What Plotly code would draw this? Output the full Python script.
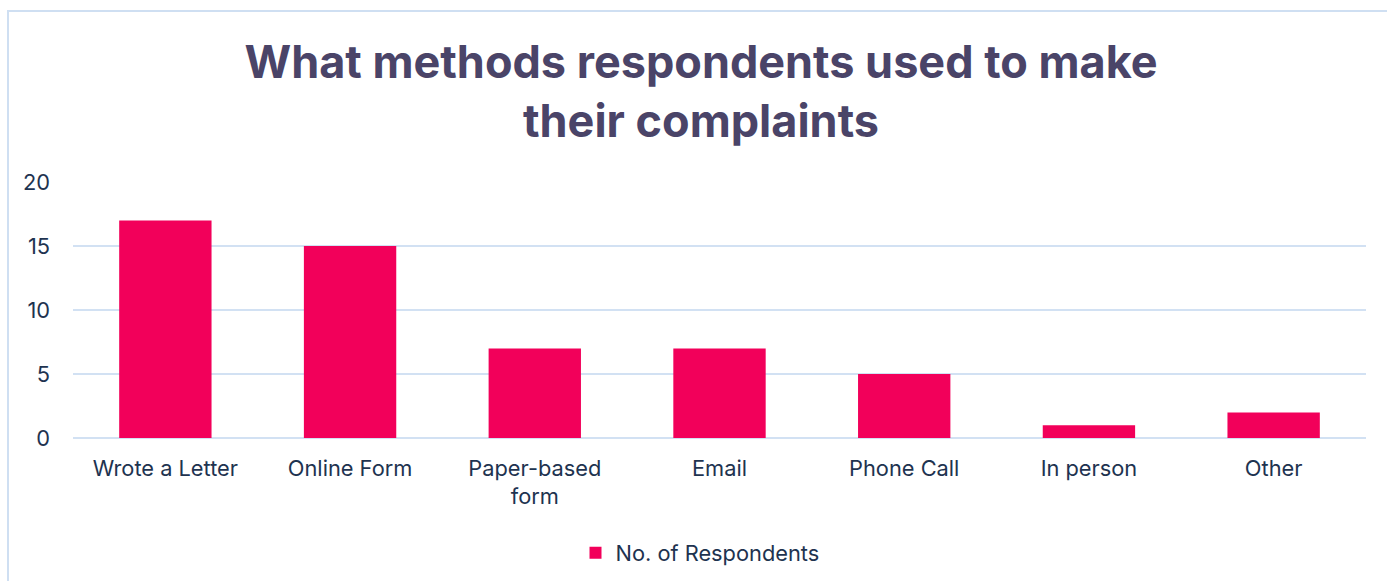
import plotly.graph_objects as go

# Survey responses: methods used to lodge complaints
methods = ["Wrote a Letter", "Online Form", "Paper-based<br>form", "Email",
           "Phone Call", "In person", "Other"]
respondents = [17, 15, 7, 7, 5, 1, 2]
y_ticks = [0, 5, 10, 15, 20]

W, H = 1387, 581
ml, mr, mt, mb = 73, 21, 182, 143
pw = W - ml - mr
ph = H - mt - mb

bar_color = "#F2005A"
text_color = "#1E3350"
grid_color = "#D2E1F3"
font_family = "Inter, Open Sans, sans-serif"

fig = go.Figure()
fig.add_trace(go.Bar(
    x=methods, y=respondents, name="No. of Respondents",
    marker=dict(color=bar_color, line=dict(width=0)),
))

fig.update_layout(
    width=W, height=H,
    margin=dict(l=ml, r=mr, t=mt, b=mb),
    paper_bgcolor="white", plot_bgcolor="white",
    bargap=0.5,
    font=dict(family=font_family, color=text_color, size=21.8),
    title=dict(
        text="<b>What methods respondents used to make<br>their complaints</b>",
        x=701 / W, xref="container", xanchor="center",
        y=1 - 78 / H, yref="container", yanchor="top",
        font=dict(family=font_family, size=45, color="#4A4468"),
    ),
    showlegend=True,
    legend=dict(
        orientation="h", x=700 / W, xref="container",
        xanchor="center", y=1 - 532 / H, yref="container", yanchor="top",
        font=dict(size=21.8, color=text_color),
    ),
    xaxis=dict(
        showgrid=False, showline=False, ticks="",
        tickfont=dict(size=21.8, color=text_color),
        ticklabelstandoff=15,
    ),
    yaxis=dict(
        range=[0, 20], tickvals=y_ticks, showgrid=True,
        gridcolor=grid_color, gridwidth=2, zeroline=True,
        zerolinecolor=grid_color, zerolinewidth=2,
        tickfont=dict(size=21.8, color=text_color),
        ticklabelstandoff=22,
    ),
)

# Outer chart frame (left and top edges visible within the page)
fig.add_shape(
    type="rect", xref="paper", yref="paper",
    x0=(8 - ml) / pw, x1=(W + 10 - ml) / pw,
    y0=(H - mb - (H + 10)) / ph, y1=(H - mb - 11) / ph,
    line=dict(color="#CFDFF2", width=2), fillcolor="rgba(0,0,0,0)",
    layer="below",
)

fig.write_html("out.html")
